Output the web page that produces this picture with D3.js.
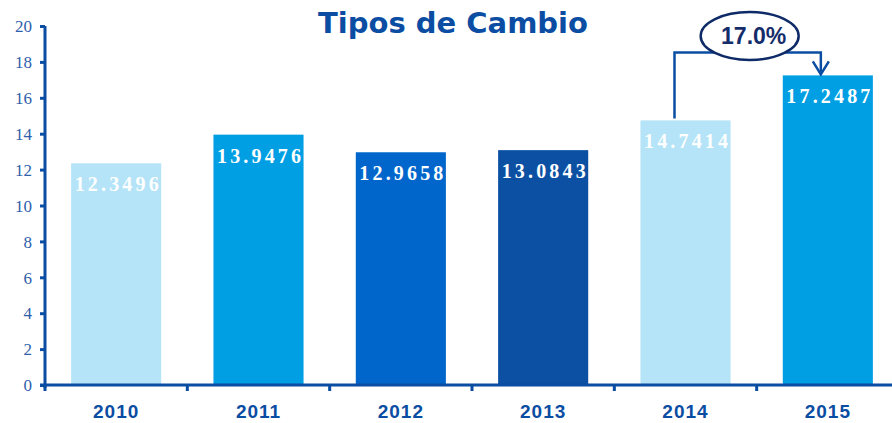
<!DOCTYPE html>
<html lang="es">
<head>
    <meta charset="UTF-8">
    <title>Tipos de Cambio</title>
    <script src="https://cdnjs.cloudflare.com/ajax/libs/d3/7.8.5/d3.min.js"></script>
    <style>
        body { margin: 0; background: #fff; }
        svg { display: block; }
        .title { font-family: "DejaVu Sans", Verdana, sans-serif; font-weight: bold; fill: #0A4DA2; }
        .ytick text { font-family: "Liberation Serif", "Times New Roman", serif; fill: #2F5FAA; }
        .xlab { font-family: "Liberation Sans", Arial, sans-serif; font-weight: bold; fill: #0A4DA2; }
        .val { font-family: "Liberation Serif", serif; font-weight: bold; fill: #fff; }
    </style>
</head>
<body>
<div id="chart"></div>
<script>
    // data
    const years = ["2010", "2011", "2012", "2013", "2014", "2015"];
    const rates = [12.3496, 13.9476, 12.9658, 13.0843, 14.7414, 17.2487];
    const barColors = ["#B5E3F7", "#009FE3", "#0066CC", "#0B50A2", "#B5E3F7", "#009FE3"];
    const yTicks = [0, 2, 4, 6, 8, 10, 12, 14, 16, 18, 20];

    const width = 892, height = 423;
    const axisColor = "#0A4DA2";

    const svg = d3.select("#chart").append("svg")
        .attr("width", width)
        .attr("height", height);

    const x = d3.scaleBand()
        .domain(years)
        .range([45, 899])
        .paddingInner(0.367)
        .paddingOuter(0.1835);

    const y = d3.scaleLinear()
        .domain([0, 20])
        .range([385, 26]);

    // title
    svg.append("text")
        .attr("class", "title")
        .attr("x", 453)
        .attr("y", 33)
        .attr("text-anchor", "middle")
        .attr("font-size", 29)
        .text("Tipos de Cambio");

    // bars
    svg.append("g")
        .selectAll("rect")
        .data(years)
        .join("rect")
        .attr("x", d => x(d))
        .attr("y", (d, i) => y(rates[i]))
        .attr("width", x.bandwidth())
        .attr("height", (d, i) => y(0) - y(rates[i]))
        .attr("fill", (d, i) => barColors[i]);

    // value labels
    svg.append("g")
        .selectAll("text")
        .data(years)
        .join("text")
        .attr("class", "val")
        .attr("x", d => x(d) + x.bandwidth() / 2 + 0.5)
        .attr("y", (d, i) => y(rates[i]) + 28)
        .attr("text-anchor", "middle")
        .attr("font-size", 20)
        .attr("textLength", 84)
        .attr("lengthAdjust", "spacing")
        .text((d, i) => rates[i].toFixed(4));

    // y axis
    const yAxis = svg.append("g")
        .attr("class", "ytick")
        .attr("transform", "translate(45,0)")
        .call(d3.axisLeft(y).tickValues(yTicks).tickSize(5).tickPadding(8).tickSizeOuter(0));
    yAxis.select(".domain").attr("stroke", axisColor).attr("stroke-width", 3)
        .attr("d", `M0,${y(20)}V${y(0) + 3}`);
    yAxis.selectAll(".tick line").attr("stroke", axisColor).attr("stroke-width", 3);
    yAxis.selectAll(".tick text").attr("font-size", 17).attr("dy", "0.34em");

    // x axis line and boundary ticks
    const step = x.step();
    svg.append("line")
        .attr("x1", 40).attr("x2", 899)
        .attr("y1", y(0)).attr("y2", y(0))
        .attr("stroke", axisColor).attr("stroke-width", 3);
    svg.append("g")
        .selectAll("line")
        .data(d3.range(years.length))
        .join("line")
        .attr("x1", i => 45 + i * step)
        .attr("x2", i => 45 + i * step)
        .attr("y1", y(0))
        .attr("y2", y(0) + 6)
        .attr("stroke", axisColor)
        .attr("stroke-width", 3);

    svg.append("g")
        .selectAll("text")
        .data(years)
        .join("text")
        .attr("class", "xlab")
        .attr("x", d => x(d) + x.bandwidth() / 2)
        .attr("y", 418)
        .attr("text-anchor", "middle")
        .attr("font-size", 19)
        .attr("letter-spacing", 1)
        .text(d => d);

    // growth annotation 2014 -> 2015
    const growth = rates[5] / rates[4] - 1;
    const xa = x("2014") + x.bandwidth() / 2 - 11;
    const xb = x("2015") + x.bandwidth() / 2 - 7;
    const yTop = y(rates[5]) - 23;
    const ann = svg.append("g");
    ann.append("path")
        .attr("d", `M${xa},${y(rates[4]) - 2}V${yTop}H${xb}V${y(rates[5]) - 1}`)
        .attr("fill", "none")
        .attr("stroke", axisColor)
        .attr("stroke-width", 2.5);
    ann.append("path")
        .attr("d", `M${xb - 8},${y(rates[5]) - 14}L${xb},${y(rates[5]) - 1}L${xb + 8},${y(rates[5]) - 14}`)
        .attr("fill", "none")
        .attr("stroke", axisColor)
        .attr("stroke-width", 2.5);
    const cx = (xa + xb) / 2;
    ann.append("ellipse")
        .attr("cx", cx + 2)
        .attr("cy", 36)
        .attr("rx", 49)
        .attr("ry", 24)
        .attr("fill", "#fff")
        .attr("stroke", "#0E2A67")
        .attr("stroke-width", 2.5);
    ann.append("text")
        .attr("x", cx + 6)
        .attr("y", 44)
        .attr("text-anchor", "middle")
        .attr("font-family", "'Liberation Sans', Arial, sans-serif")
        .attr("font-weight", "bold")
        .attr("font-size", 23)
        .attr("fill", "#142D6A")
        .text(d3.format(".1%")(growth));
</script>
</body>
</html>
